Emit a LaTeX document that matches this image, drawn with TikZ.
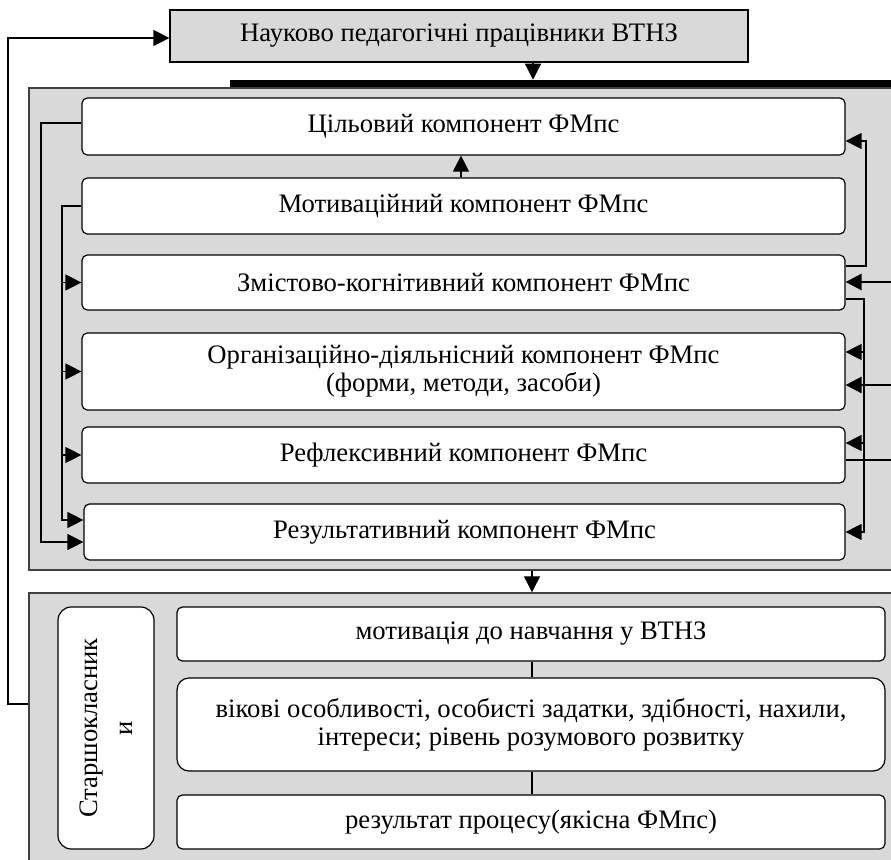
\documentclass[tikz,border=0pt]{standalone}
\usepackage{fontspec}
\setmainfont{Liberation Serif}
\usetikzlibrary{arrows.meta,fit}
\definecolor{panelgray}{RGB}{217,217,217}
\definecolor{edgegray}{RGB}{64,64,64}
\tikzset{
  box/.style={draw=black, line width=0.9pt, fill=white, rounded corners=4pt, inner sep=0pt, align=center, font=\fontsize{20}{21}\selectfont},
  topbox/.style={box, rounded corners=0pt, fill=panelgray},
  sz/.style 2 args={minimum width=#1*0.75pt, minimum height=#2*0.75pt},
  panel/.style={draw=edgegray, line width=1.1pt, fill=panelgray, inner sep=0pt},
  conn/.style={line width=1pt, -{Triangle[length=12pt,width=12pt]}},
  plain/.style={line width=1pt},
  ext/.style={line width=2pt, -{Triangle[length=12pt,width=12pt]}},
}
\begin{document}
\begin{tikzpicture}[x=0.75pt,y=-0.75pt]
\clip (0,0) rectangle (891,859);
\fill[white] (0,0) rectangle (891,859);
% panels
\node[panel, fit={(29,88) (905,570)}] (p1) {};
\node[panel, fit={(29,593) (905,875)}] (p2) {};
\node[fill=black, inner sep=0pt, fit={(230,80) (905,87)}] (bar) {};
% top box
\node[topbox, sz={578}{52}] (top) at (459,36) {Науково педагогічні працівники ВТНЗ};
% components
\node[box, sz={763}{57}] (c1) at (463.5,126.5) {Цільовий компонент ФМпс};
\node[box, sz={763}{56}] (c2) at (463.5,206) {Мотиваційний компонент ФМпс};
\node[box, sz={763}{55}] (c3) at (463.5,282.5) {Змістово-когнітивний компонент ФМпс};
\node[box, sz={763}{77}] (c4) at (463.5,371.5) {Організаційно-діяльнісний компонент ФМпс\\(форми, методи, засоби)};
\node[box, sz={763}{56}] (c5) at (463.5,455) {Рефлексивний компонент ФМпс};
\node[box, sz={761}{56}] (c6) at (464.5,532) {Результативний компонент ФМпс};
% bottom panel
\node[box, rounded corners=10pt, sz={96}{242}] (s) at (106,728) {};
\node[rotate=90, align=center, inner sep=0pt, font=\fontsize{20}{26}\selectfont] (sT) at (s.center) {Старшокласник\\и};
\node[box, sz={708}{54}] (b1) at (531,634) {мотивація до навчання у ВТНЗ};
\node[box, rounded corners=9pt, sz={708}{93}] (b2) at (531,724.5) {вікові особливості, особисті задатки, здібності, нахили,\\інтереси; рівень розумового розвитку};
\node[box, sz={708}{54}] (b3) at (531,822) {результат процесу(якісна ФМпс)};
% connectors
\draw[conn] (top.south -| 533,0) -- (bar.north -| 533,0);
\draw[conn] (c2.north -| 461,0) -- (c1.south -| 461,0);
% left buses
\coordinate (LA) at (41,542);
\coordinate (LB) at (62,520);
\draw[conn] (c1.west |- 0,123) -| (LA) -- (c6.west |- LA);
\draw[conn] (c2.west |- 0,206) -| (LB) -- (c6.west |- LB);
\draw[conn] (LB |- c3.west) -- (c3.west);
\draw[conn] (LB |- c4.west) -- (c4.west);
\draw[conn] (LB |- c5.west) -- (c5.west);
% right buses
\coordinate (RA) at (866,141);
\coordinate (RB) at (864,532);
\draw[conn] (c3.east |- 0,266) -| (RA) -- (c1.east |- RA);
\draw[conn] (c3.east |- 0,299) -| (RB) -- (c6.east |- RB);
\draw[conn] (RB |- 0,352) -- (c4.east |- 0,352);
\draw[conn] (RB |- 0,443) -- (c5.east |- 0,443);
\coordinate (E1) at (905,282);
\coordinate (E2) at (905,385);
\coordinate (E3) at (905,460);
\draw[ext] (E1) -- (c3.east |- E1);
\draw[ext] (E2) -- (c4.east |- E2);
\draw[plain] (c5.east |- E3) -- (E3);
% between panels
\draw[conn] (p1.south -| 532,0) -- (p2.north -| 532,0);
\draw[plain] (b1.south -| 532,0) -- (b2.north -| 532,0);
\draw[plain] (b2.south -| 532,0) -- (b3.north -| 532,0);
% feedback loop
\coordinate (F) at (8,38);
\draw[conn] (p2.west |- 0,704) -| (F) -- (top.west |- F);
\end{tikzpicture}
\end{document}
